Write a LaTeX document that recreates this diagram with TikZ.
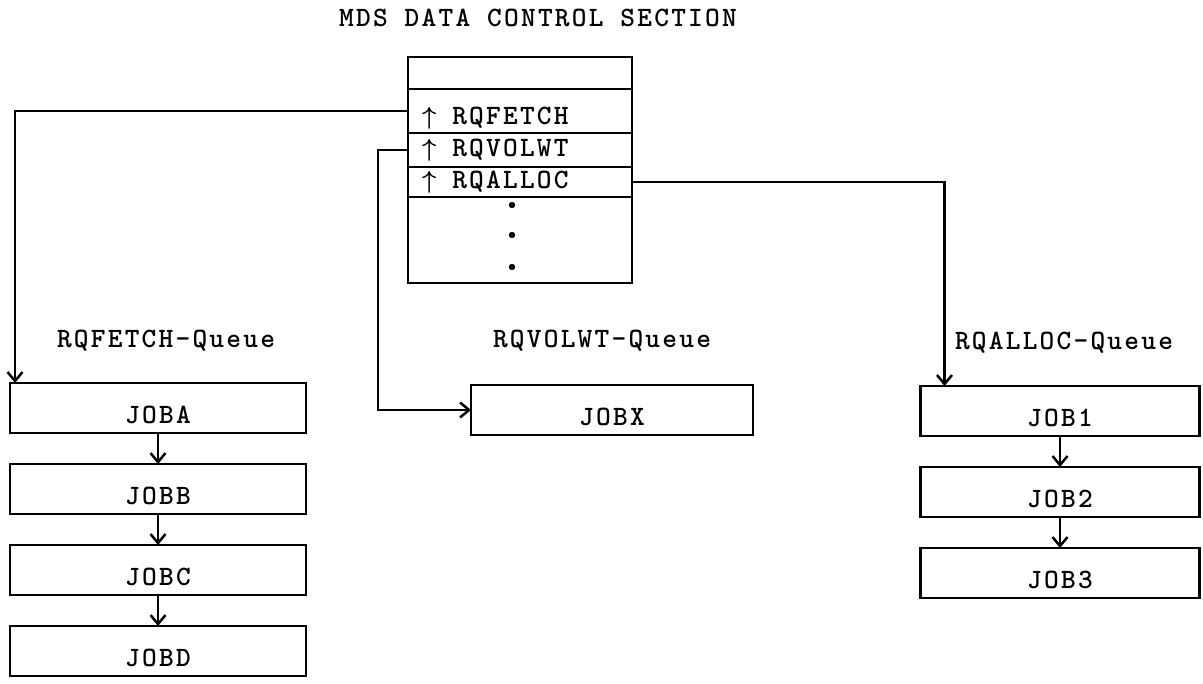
\documentclass[tikz,border=0pt]{standalone}
\usepackage{amsmath,amssymb}
\usepackage{fontspec}
\newfontfamily\typew[LetterSpace=8]{lmmonolt10-bold.otf}
\usetikzlibrary{arrows.meta, positioning}

\begin{document}
\begin{tikzpicture}[x=1pt, y=-1pt, font=\typew\fontsize{28}{32}\selectfont,
	>={Straight Barb[length=9pt,width=15pt]},
	cell/.style={draw, line width=2.5pt, text width=196pt, align=left, inner xsep=14pt, inner ysep=0pt, outer sep=0pt, anchor=north west},
	jobbox/.style={draw, line width=2.5pt, minimum width=#1, minimum height=50pt, text height=31pt, text depth=0pt, inner sep=0pt, outer sep=0pt},
	jobbox/.default=282pt,
	link/.style={->, line width=2.5pt}]
	
	\useasboundingbox (0,0) rectangle (1203,684);
	
	% 1. Control section table
	\node[anchor=base] (title) at (538,27) {MDS DATA CONTROL SECTION};
	\node[cell, minimum height=32pt] (top) at (408,57) {};
	\node[cell, minimum height=44pt, text height=28pt, text depth=0pt, below=0pt of top] (fetch) {$\boldsymbol{\uparrow}$\hspace{16pt}RQFETCH};
	\node[cell, minimum height=34pt, below=0pt of fetch] (volwt) {$\boldsymbol{\uparrow}$\hspace{16pt}RQVOLWT};
	\node[cell, minimum height=30pt, below=0pt of volwt] (alloc) {$\boldsymbol{\uparrow}$\hspace{16pt}RQALLOC};
	\node[cell, minimum height=86pt, below=0pt of alloc] (dots) {};
	\foreach \dy in {8,38,70}
		\fill ([xshift=-8pt,yshift=-\dy pt]dots.north) circle (3.2pt);
	
	% 2. Queue names
	\node[anchor=base] (fetchq) at (166,348) {RQFETCH-Queue};
	\node[anchor=base] (volwtq) at (602,348) {RQVOLWT-Queue};
	\node[anchor=base] (allocq) at (1064,350) {RQALLOC-Queue};
	
	% 3. Job boxes
	\node[jobbox=296pt] (joba) at (158,408) {JOBA};
	\node[jobbox=296pt, below=31pt of joba] (jobb) {JOBB};
	\node[jobbox=296pt, below=31pt of jobb] (jobc) {JOBC};
	\node[jobbox=296pt, below=31pt of jobc] (jobd) {JOBD};
	
	\node[jobbox] (jobx) at (612,410) {JOBX};
	
	\node[jobbox=279pt] (job1) at (1060,411) {JOB1};
	\node[jobbox=279pt, below=31pt of job1] (job2) {JOB2};
	\node[jobbox=279pt, below=31pt of job2] (job3) {JOB3};
	
	% 4. Pointers
	\draw[link] (fetch.west) -| ([xshift=5pt]joba.north west);
	\draw[link] (volwt.west) -- ++(-30,0) |- (jobx.west);
	\draw[link] (alloc.east) -| ([xshift=24pt]job1.north west);
	\foreach \a/\b in {joba/jobb, jobb/jobc, jobc/jobd, job1/job2, job2/job3}
		\draw[link] (\a) -- (\b);
	
\end{tikzpicture}
\end{document}
